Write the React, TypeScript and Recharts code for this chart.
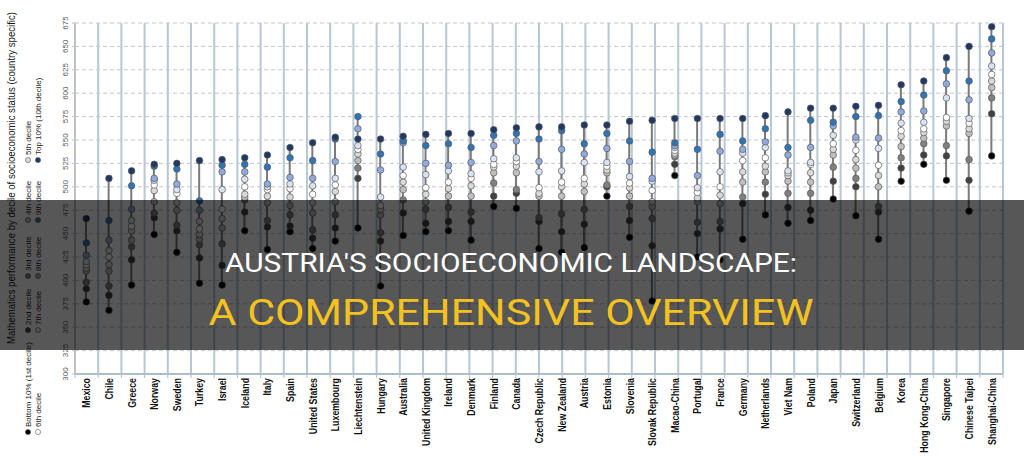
import React from 'react'
import { Bar, CartesianGrid, ComposedChart, Line, XAxis, YAxis } from 'recharts'

const countries = [
  'Mexico', 'Chile', 'Greece', 'Norway', 'Sweden', 'Turkey', 'Israel', 'Iceland', 'Italy', 'Spain',
  'United States', 'Luxembourg', 'Liechtenstein', 'Hungary', 'Australia', 'United Kingdom', 'Ireland',
  'Denmark', 'Finland', 'Canada', 'Czech Republic', 'New Zealand', 'Austria', 'Estonia', 'Slovenia',
  'Slovak Republic', 'Macao-China', 'Portugal', 'France', 'Germany', 'Netherlands', 'Viet Nam', 'Poland',
  'Japan', 'Switzerland', 'Belgium', 'Korea', 'Hong Kong-China', 'Singapore', 'Chinese Taipei', 'Shanghai-China',
]

// mean maths score per decile of socioeconomic status, one value per country
const decile1 = [377, 368, 395, 449, 430, 397, 395, 453, 433, 452, 434, 442, 456, 394, 448, 452, 453, 443, 479, 477, 434, 430, 435, 490, 446, 378, 512, 425, 422, 444, 470, 461, 464, 487, 469, 444, 506, 524, 507, 474, 533]
const decile2 = [391, 384, 422, 467, 453, 424, 416, 473, 457, 458, 445, 456, 509, 442, 472, 461, 463, 463, 490, 493, 463, 452, 460, 500, 464, 437, 524, 450, 455, 482, 492, 478, 475, 506, 500, 473, 520, 534, 533, 507, 578]
const decile3 = [398, 394, 436, 472, 459, 438, 439, 486, 464, 470, 454, 470, 520, 451, 486, 476, 478, 473, 504, 497, 467, 471, 476, 502, 479, 466, 532, 462, 463, 489, 505, 493, 493, 521, 509, 479, 531, 546, 544, 529, 595]
const decile4 = [410, 410, 443, 484, 475, 444, 456, 489, 483, 480, 472, 484, 528, 470, 497, 484, 490, 490, 515, 515, 490, 490, 495, 515, 490, 479, 534, 484, 482, 505, 516, 506, 505, 534, 520, 500, 543, 552, 565, 557, 606]
const decile5 = [413, 417, 453, 496, 483, 449, 466, 492, 490, 489, 483, 495, 535, 476, 505, 492, 498, 501, 521, 522, 493, 500, 503, 518, 499, 484, 536, 488, 491, 516, 522, 512, 515, 540, 529, 512, 554, 558, 570, 562, 613]
const decile6 = [417, 425, 458, 502, 493, 455, 476, 500, 497, 498, 492, 502, 540, 480, 512, 499, 505, 509, 524, 527, 499, 505, 509, 522, 504, 496, 539, 494, 500, 528, 531, 515, 524, 546, 539, 523, 560, 562, 574, 568, 620]
const decile7 = [420, 432, 464, 507, 497, 463, 497, 508, 500, 503, 501, 509, 544, 489, 521, 513, 517, 514, 530, 531, 516, 517, 526, 526, 511, 506, 542, 499, 516, 536, 542, 517, 526, 555, 550, 541, 568, 569, 595, 573, 629]
const decile8 = [427, 443, 476, 509, 503, 475, 516, 516, 503, 510, 509, 527, 562, 518, 547, 525, 523, 526, 544, 549, 527, 540, 535, 541, 527, 509, 544, 512, 538, 540, 548, 534, 542, 565, 553, 552, 580, 581, 610, 593, 643]
const decile9 = [440, 464, 501, 522, 519, 485, 523, 524, 521, 531, 528, 551, 575, 535, 549, 544, 546, 542, 555, 557, 551, 560, 546, 557, 549, 537, 547, 540, 556, 549, 562, 542, 571, 569, 575, 576, 591, 598, 624, 613, 658]
const decile10 = [466, 509, 517, 524, 525, 528, 529, 531, 534, 542, 547, 553, 551, 551, 554, 556, 557, 557, 561, 563, 564, 564, 566, 566, 570, 571, 573, 573, 573, 573, 576, 580, 584, 584, 586, 587, 609, 613, 638, 650, 671]

const deciles = [decile1, decile2, decile3, decile4, decile5, decile6, decile7, decile8, decile9, decile10]

const decileNames = [
  'Bottom 10% (1st decile)', '2nd decile', '3rd decile', '4th decile', '5th decile',
  '6th decile', '7th decile', '8th decile', '9th decile', 'Top 10% (10th decile)',
]

const decileColors = ['#000000', '#404040', '#808080', '#bfbfbf', '#d9d9d9', '#ffffff', '#dae3f3', '#8faadc', '#2e75b6', '#203864']

const yTicks = [300, 325, 350, 375, 400, 425, 450, 475, 500, 525, 550, 575, 600, 625, 650, 675]
const gridTicks = countries.map((_, i) => i).concat(countries.length)

const data = countries.map((name, i) => {
  const row: any = { name }
  const vals = deciles.map(d => d[i])
  vals.forEach((v, k) => (row['d' + (k + 1)] = v))
  row.range = [Math.min(...vals), Math.max(...vals)]
  return row
})

const YTick = ({ x, y, payload }: any) => (
  <g transform={`translate(${x - 2},${y}) rotate(-90)`}>
    <text textAnchor="middle" fontSize={8} fill="#595959" fontFamily="Arial, 'Liberation Sans', sans-serif">
      {payload.value}
    </text>
  </g>
)

const CountryTick = ({ x, y, payload }: any) => (
  <g transform={`translate(${x + 4},${y - 9}) rotate(-90) scale(0.8,1)`}>
    <text textAnchor="end" fontSize={11} fontWeight="bold" fill="#111" fontFamily="Arial, 'Liberation Sans', sans-serif">
      {payload.value}
    </text>
  </g>
)

// legend sits rotated on the left, two rows of five
const legendCols = [432, 330, 276, 220, 160]

export default function App() {
  return (
    <div style={{ position: 'fixed', left: 0, top: 0, width: 1024, height: 466, background: '#fff', overflow: 'hidden' }}>
      <ComposedChart width={1024} height={466} data={data} margin={{ top: 23, right: 21, bottom: 0, left: 45 }}>
        <CartesianGrid xAxisId="cat" vertical={false} stroke="#c6c6c6" strokeDasharray="4 3" />
        <CartesianGrid horizontal={false} stroke="#b9c7d5" strokeWidth={2} />
        {/* separator axis: ticks on the category boundaries */}
        <XAxis
          type="number"
          domain={[0, countries.length]}
          ticks={gridTicks}
          height={5}
          tickSize={4}
          tickFormatter={() => ''}
          axisLine={{ stroke: '#aebdcc', strokeWidth: 2 }}
          tickLine={{ stroke: '#aebdcc' }}
        />
        <XAxis xAxisId="cat" dataKey="name" interval={0} height={87} axisLine={false} tickLine={false} tick={<CountryTick />} />
        <YAxis
          domain={[300, 675]}
          ticks={yTicks}
          width={30}
          tickSize={3}
          axisLine={{ stroke: '#c0c0c0', strokeWidth: 2 }}
          tickLine={{ stroke: '#c0c0c0' }}
          tick={<YTick />}
        />
        <Bar xAxisId="cat" dataKey="range" barSize={2} fill="#7a7a7a" isAnimationActive={false} />
        {deciles.map((_, k) => (
          <Line
            key={k}
            xAxisId="cat"
            dataKey={'d' + (k + 1)}
            stroke="none"
            dot={{ r: 3.3, fill: decileColors[k], stroke: '#5a5a5a', strokeWidth: 0.7 }}
            activeDot={false}
            isAnimationActive={false}
          />
        ))}
      </ComposedChart>

      <svg width={1024} height={466} style={{ position: 'absolute', left: 0, top: 0, pointerEvents: 'none' }}>
        <text
          transform="translate(15,178) rotate(-90)"
          textAnchor="middle"
          fontSize={11}
          fill="#1a1a1a"
          textLength={332}
          lengthAdjust="spacingAndGlyphs"
          fontFamily="Arial, 'Liberation Sans', sans-serif"
        >
          Mathematics performance by decile of socioeconomic status (country specific)
        </text>
        {decileNames.map((name, k) => {
          const row = k < 5 ? 0 : 1
          const col = k % 5
          const bx = row === 0 ? 31 : 41
          const y0 = legendCols[col]
          return (
            <g key={name}>
              <circle cx={bx - 3} cy={y0} r={2.6} fill={decileColors[k]} stroke="#5a5a5a" strokeWidth={0.6} />
              <text
                transform={`translate(${bx},${y0 - 5}) rotate(-90)`}
                fontSize={8}
                fill="#222"
                fontFamily="Arial, 'Liberation Sans', sans-serif"
              >
                {name}
              </text>
            </g>
          )
        })}

        <rect x={0} y={200} width={1024} height={150} fill="#000" fillOpacity={0.66} />
        <text
          x={511}
          y={272}
          textAnchor="middle"
          fontSize={26}
          fill="#ffffff"
          textLength={572}
          lengthAdjust="spacingAndGlyphs"
          fontFamily="Roboto, Arial, sans-serif"
        >
          AUSTRIA'S SOCIOECONOMIC LANDSCAPE:
        </text>
        <text
          x={511}
          y={325}
          textAnchor="middle"
          fontSize={37}
          fill="#f4c21f"
          textLength={605}
          lengthAdjust="spacingAndGlyphs"
          fontFamily="Roboto, Arial, sans-serif"
        >
          A COMPREHENSIVE OVERVIEW
        </text>
      </svg>
    </div>
  )
}
